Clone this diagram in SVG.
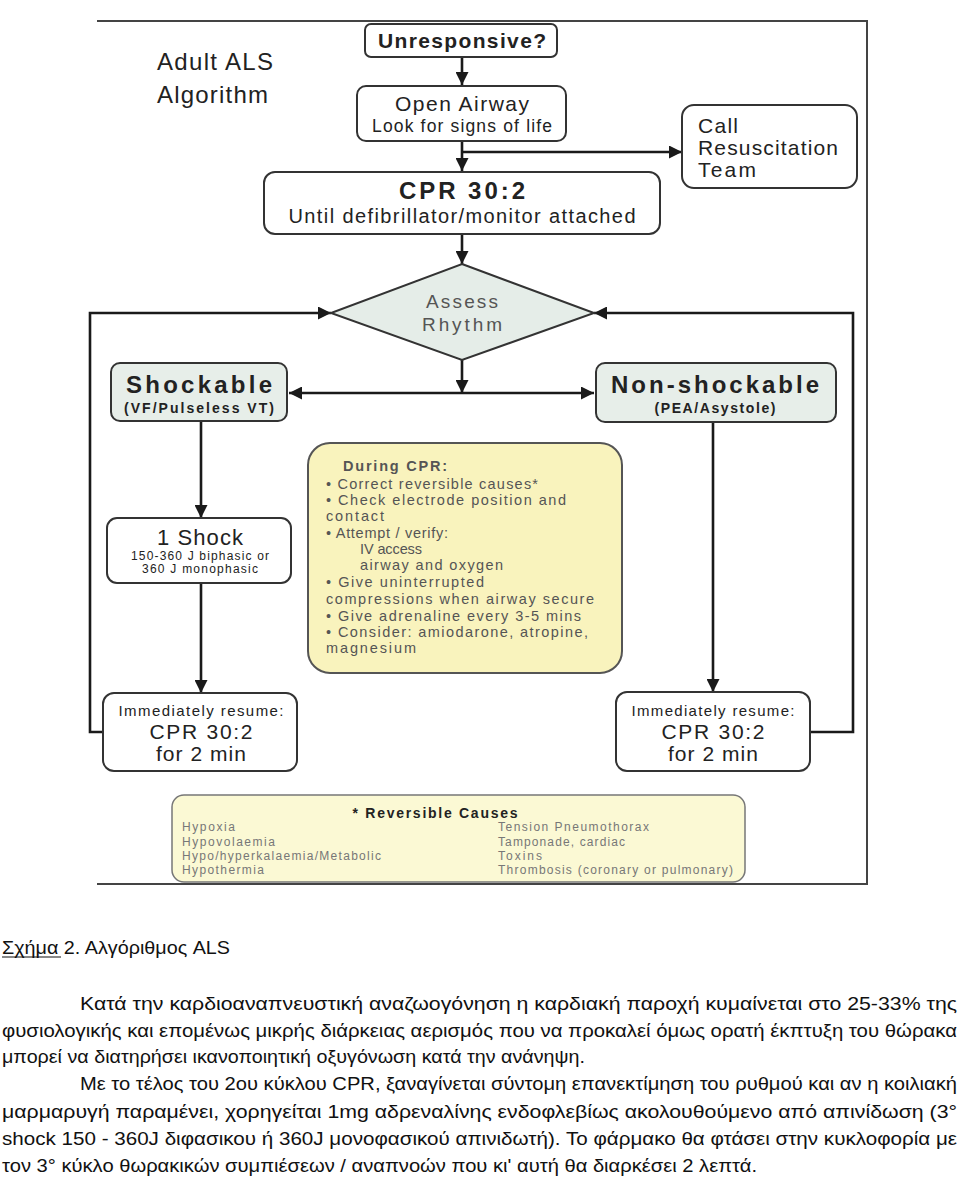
<svg xmlns="http://www.w3.org/2000/svg" width="960" height="1187" viewBox="0 0 960 1187">
<defs>
<marker id="ah" viewBox="0 0 10 10" refX="10" refY="5" markerWidth="13" markerHeight="13" markerUnits="userSpaceOnUse" orient="auto">
<path d="M0,0 L10,5 L0,10 z" fill="#1a1a1a"/>
</marker>
<style>
text{font-family:"Liberation Sans",Arial,sans-serif;fill:#222}
.box{fill:#fff;stroke:#333;stroke-width:2}
.grn{fill:#e7eee9;stroke:#333;stroke-width:2}
.yel{fill:#f9f3bd;stroke:#555;stroke-width:2}
.rev{fill:#fbf9d4;stroke:#777;stroke-width:1.5}
.con{fill:none;stroke:#1a1a1a;stroke-width:2.6;marker-end:url(#ah)}
.frame{fill:none;stroke:#444;stroke-width:2}
.c{text-anchor:middle}
.b{font-weight:bold}
.g{fill:#555}
.y{fill:#555;font-size:14.5px}
.r{fill:#777;font-size:12px}
.p{font-size:18px;fill:#111}
</style>
</defs>
<rect width="960" height="1187" fill="#fff"/>
<g id="frame">
<path class="frame" d="M97,21 H867 V884 H97"/>
</g>
<g id="title">
<text x="157" y="70" font-size="24" textLength="116" fill="#333">Adult ALS</text>
<text x="157" y="103" font-size="24" textLength="111" fill="#333">Algorithm</text>
</g>
<g id="connectors">
<line class="con" x1="462" y1="57" x2="462" y2="85"/>
<line class="con" x1="462" y1="141" x2="462" y2="171"/>
<line class="con" x1="462" y1="152" x2="682" y2="152"/>
<line class="con" x1="462" y1="235" x2="462" y2="264"/>
<path class="con" d="M103,732 H90 V313 H331"/>
<path class="con" d="M810,732 H853 V313 H594"/>
<line class="con" x1="462" y1="359" x2="462" y2="393"/>
<line class="con" x1="462" y1="393" x2="289" y2="393"/>
<line class="con" x1="462" y1="393" x2="594" y2="393"/>
<line class="con" x1="201" y1="421" x2="201" y2="518"/>
<line class="con" x1="201" y1="583" x2="201" y2="693"/>
<line class="con" x1="713" y1="422" x2="713" y2="692"/>
</g>
<g id="unresponsive">
<rect class="box" x="365" y="24" width="192" height="33" rx="6"/>
<text class="c b" x="462" y="48" font-size="21" textLength="168">Unresponsive?</text>
</g>
<g id="open-airway">
<rect class="box" x="357" y="86" width="209" height="55" rx="9"/>
<text class="c" x="462" y="111" font-size="21" textLength="134">Open Airway</text>
<text class="c" x="462" y="132" font-size="17.5" textLength="180">Look for signs of life</text>
</g>
<g id="call-team">
<rect class="box" x="682" y="105" width="175" height="83" rx="12"/>
<text x="698" y="133" font-size="21" textLength="40" fill="#333">Call</text>
<text x="698" y="155" font-size="21" textLength="140" fill="#333">Resuscitation</text>
<text x="698" y="177" font-size="21" textLength="58" fill="#333">Team</text>
</g>
<g id="cpr">
<rect class="box" x="264" y="172" width="396" height="62" rx="11"/>
<text class="c b" x="462" y="199" font-size="24" textLength="126">CPR 30:2</text>
<text class="c" x="462" y="223" font-size="20" textLength="347">Until defibrillator/monitor attached</text>
</g>
<g id="assess">
<polygon points="462,264 594,313 462,360 331,313" fill="#e5ede8" stroke="#333" stroke-width="2"/>
<text class="c g" x="462" y="308" font-size="19" textLength="72">Assess</text>
<text class="c g" x="462" y="331" font-size="19" textLength="80">Rhythm</text>
</g>
<g id="shockable">
<rect class="grn" x="111" y="363" width="176" height="58" rx="9"/>
<text class="c b" x="199" y="393" font-size="24" textLength="146">Shockable</text>
<text class="c b" x="199" y="413" font-size="14" textLength="150" fill="#333">(VF/Pulseless VT)</text>
</g>
<g id="non-shockable">
<rect class="grn" x="596" y="363" width="240" height="59" rx="9"/>
<text class="c b" x="715" y="393" font-size="24" textLength="208">Non-shockable</text>
<text class="c b" x="715" y="413" font-size="14" textLength="121" fill="#333">(PEA/Asystole)</text>
</g>
<g id="during-cpr">
<rect class="yel" x="308" y="443" width="314" height="230" rx="22"/>
<text class="y b" x="343" y="471" textLength="104">During CPR:</text>
<text class="y" x="326" y="489" textLength="212">• Correct reversible causes*</text>
<text class="y" x="326" y="505" textLength="240">• Check electrode position and</text>
<text class="y" x="326" y="521" textLength="58">contact</text>
<text class="y" x="326" y="538" textLength="122">• Attempt / verify:</text>
<text class="y" x="360" y="554" textLength="62">IV access</text>
<text class="y" x="360" y="570" textLength="143">airway and oxygen</text>
<text class="y" x="326" y="587" textLength="158">• Give uninterrupted</text>
<text class="y" x="326" y="604" textLength="268">compressions when airway secure</text>
<text class="y" x="326" y="621" textLength="255">• Give adrenaline every 3-5 mins</text>
<text class="y" x="326" y="637" textLength="262">• Consider: amiodarone, atropine,</text>
<text class="y" x="326" y="653" textLength="90">magnesium</text>
</g>
<g id="one-shock">
<rect class="box" x="107" y="518" width="184" height="65" rx="10"/>
<text class="c" x="200" y="545" font-size="22" textLength="86">1 Shock</text>
<text class="c" x="200" y="560" font-size="12" textLength="138" fill="#444">150-360 J biphasic or</text>
<text class="c" x="200" y="573" font-size="12" textLength="116" fill="#444">360 J monophasic</text>
</g>
<g id="resume-left">
<rect class="box" x="103" y="693" width="194" height="78" rx="11"/>
<text class="c" x="201" y="716" font-size="15" textLength="165" fill="#444">Immediately resume:</text>
<text class="c" x="201" y="739" font-size="21" textLength="103">CPR 30:2</text>
<text class="c" x="201" y="761" font-size="21" textLength="90">for 2 min</text>
</g>
<g id="resume-right">
<rect class="box" x="616" y="692" width="194" height="79" rx="11"/>
<text class="c" x="713" y="716" font-size="15" textLength="163" fill="#444">Immediately resume:</text>
<text class="c" x="713" y="739" font-size="21" textLength="103">CPR 30:2</text>
<text class="c" x="713" y="761" font-size="21" textLength="90">for 2 min</text>
</g>
<g id="reversible-causes">
<rect class="rev" x="172" y="795" width="573" height="87" rx="12"/>
<text class="c b" x="435" y="818" font-size="14" textLength="165" fill="#444">* Reversible Causes</text>
<text class="r" x="182" y="831" textLength="53">Hypoxia</text>
<text class="r" x="182" y="846" textLength="93">Hypovolaemia</text>
<text class="r" x="182" y="860" textLength="199">Hypo/hyperkalaemia/Metabolic</text>
<text class="r" x="182" y="874" textLength="82">Hypothermia</text>
<text class="r" x="498" y="831" textLength="151">Tension Pneumothorax</text>
<text class="r" x="498" y="846" textLength="127">Tamponade, cardiac</text>
<text class="r" x="498" y="860" textLength="44">Toxins</text>
<text class="r" x="498" y="874" textLength="235">Thrombosis (coronary or pulmonary)</text>
</g>
<g id="caption">
<text class="p" x="2" y="954" textLength="228" lengthAdjust="spacingAndGlyphs">Σχήμα 2. Αλγόριθμος ALS</text>
<line x1="2" y1="957" x2="61" y2="957" stroke="#111" stroke-width="1"/>
</g>
<g id="body-text">
<text class="p" x="80" y="1010" textLength="877" lengthAdjust="spacingAndGlyphs">Κατά την καρδιοαναπνευστική αναζωογόνηση η καρδιακή παροχή κυμαίνεται στο 25-33% της</text>
<text class="p" x="2" y="1037" textLength="955" lengthAdjust="spacingAndGlyphs">φυσιολογικής και επομένως μικρής διάρκειας αερισμός που να προκαλεί όμως ορατή έκπτυξη του θώρακα</text>
<text class="p" x="2" y="1063" textLength="583" lengthAdjust="spacingAndGlyphs">μπορεί να διατηρήσει ικανοποιητική οξυγόνωση κατά την ανάνηψη.</text>
<text class="p" x="80" y="1090" textLength="877" lengthAdjust="spacingAndGlyphs">Με το τέλος του 2ου κύκλου CPR, ξαναγίνεται σύντομη επανεκτίμηση του ρυθμού και αν η κοιλιακή</text>
<text class="p" x="2" y="1118" textLength="955" lengthAdjust="spacingAndGlyphs">μαρμαρυγή παραμένει, χορηγείται 1mg αδρεναλίνης ενδοφλεβίως ακολουθούμενο από απινίδωση (3°</text>
<text class="p" x="2" y="1145" textLength="955" lengthAdjust="spacingAndGlyphs">shock 150 - 360J διφασικου ή 360J μονοφασικού απινιδωτή). Το φάρμακο θα φτάσει στην κυκλοφορία με</text>
<text class="p" x="2" y="1172" textLength="755" lengthAdjust="spacingAndGlyphs">τον 3° κύκλο θωρακικών συμπιέσεων / αναπνοών που κι' αυτή θα διαρκέσει 2 λεπτά.</text>
</g>
</svg>
